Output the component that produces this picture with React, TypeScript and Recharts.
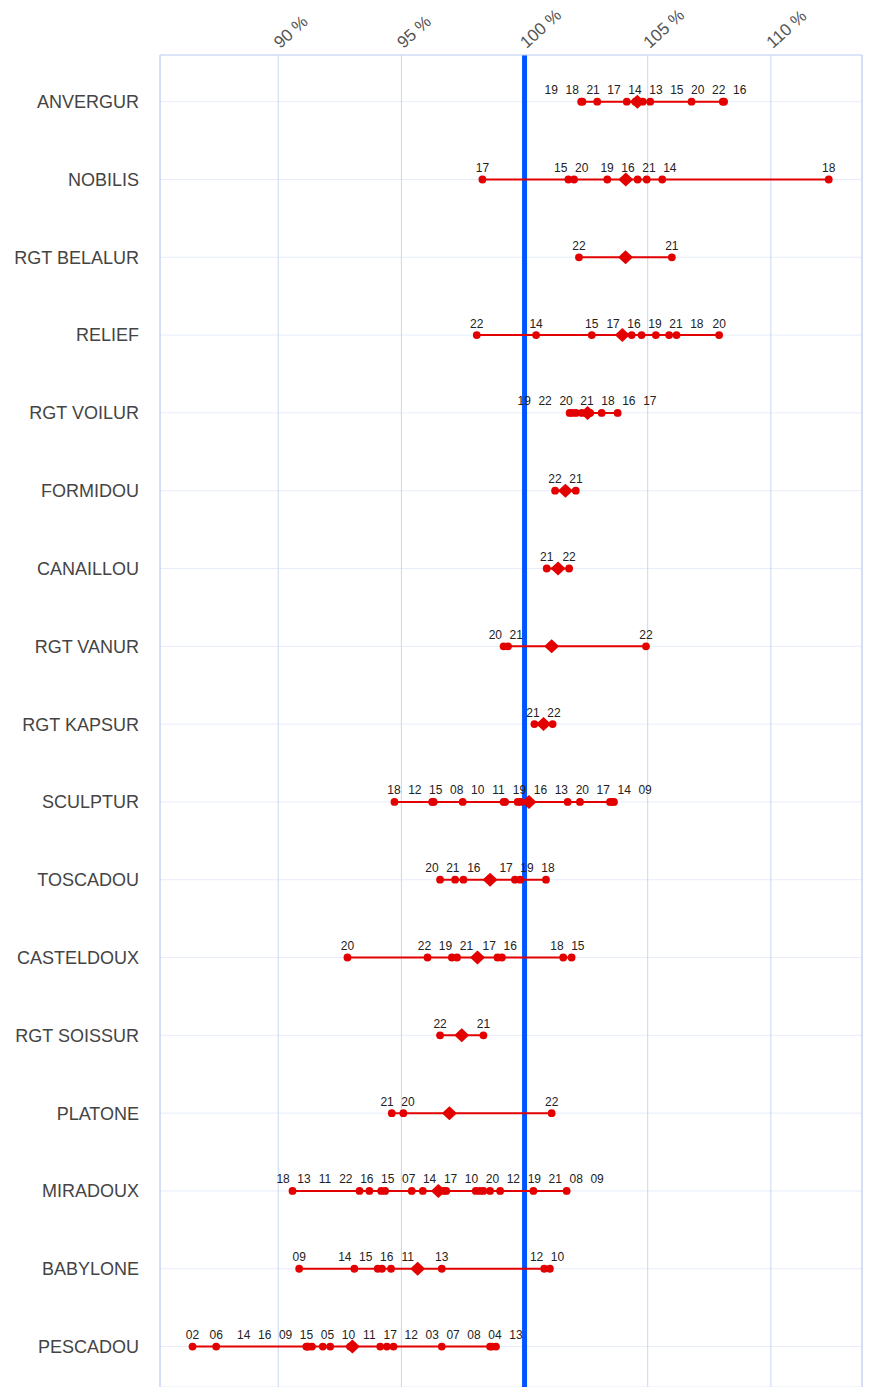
import { CartesianGrid, ReferenceLine, Scatter, ScatterChart, XAxis, YAxis } from "recharts"

const varieties = [
  "ANVERGUR",
  "NOBILIS",
  "RGT BELALUR",
  "RELIEF",
  "RGT VOILUR",
  "FORMIDOU",
  "CANAILLOU",
  "RGT VANUR",
  "RGT KAPSUR",
  "SCULPTUR",
  "TOSCADOU",
  "CASTELDOUX",
  "RGT SOISSUR",
  "PLATONE",
  "MIRADOUX",
  "BABYLONE",
  "PESCADOU",
]

// harvest year of each trial, one list per variety
const years = [
  ["19", "18", "21", "17", "14", "13", "15", "20", "22", "16"],
  ["17", "15", "20", "19", "16", "21", "14", "18"],
  ["22", "21"],
  ["22", "14", "15", "17", "16", "19", "21", "18", "20"],
  ["19", "22", "20", "21", "18", "16", "17"],
  ["22", "21"],
  ["21", "22"],
  ["20", "21", "22"],
  ["21", "22"],
  ["18", "12", "15", "08", "10", "11", "19", "16", "13", "20", "17", "14", "09"],
  ["20", "21", "16", "17", "19", "18"],
  ["20", "22", "19", "21", "17", "16", "18", "15"],
  ["22", "21"],
  ["21", "20", "22"],
  ["18", "13", "11", "22", "16", "15", "07", "14", "17", "10", "20", "12", "19", "21", "08", "09"],
  ["09", "14", "15", "16", "11", "13", "12", "10"],
  ["02", "06", "14", "16", "09", "15", "05", "10", "11", "17", "12", "03", "07", "08", "04", "13"],
]

// yield in % of the trial mean, same order as years
const yieldPct = [
  [102.3, 102.35, 102.95, 104.15, 104.5, 104.8, 105.1, 106.78, 108.05, 108.1],
  [98.29, 101.78, 102.01, 103.36, 104.59, 104.96, 105.59, 112.35],
  [102.21, 105.98],
  [98.06, 100.47, 102.73, 104.35, 104.75, 105.33, 105.87, 106.17, 107.9],
  [101.83, 101.93, 102.09, 102.33, 102.66, 103.13, 103.78],
  [101.24, 102.08],
  [100.9, 101.81],
  [99.15, 99.33, 104.93],
  [100.4, 101.14],
  [94.72, 96.25, 96.31, 97.49, 99.15, 99.21, 99.72, 99.84, 101.75, 102.25, 103.47, 103.55, 103.63],
  [96.57, 97.18, 97.52, 99.61, 99.82, 100.87],
  [92.81, 96.06, 97.05, 97.26, 98.9, 99.08, 101.57, 101.91],
  [96.57, 98.33],
  [94.61, 95.08, 101.1],
  [90.58, 93.3, 93.7, 94.18, 94.34, 95.42, 95.87, 96.71, 96.82, 98.02, 98.19, 98.33, 98.6, 99.01, 100.36, 101.71],
  [90.85, 93.09, 94.04, 94.21, 94.58, 96.64, 100.8, 101.03],
  [86.52, 87.48, 91.14, 91.18, 91.22, 91.37, 91.81, 92.11, 92.92, 94.14, 94.41, 94.68, 96.64, 98.6, 98.67, 98.84],
]

const meanPct = [
  104.58, 104.11, 104.1, 103.97, 102.56, 101.66, 101.36, 101.1, 100.77, 100.18, 98.6, 98.09, 97.45, 96.95, 96.5,
  95.66, 93.01,
]

const pctTicks = [90, 95, 100, 105, 110]

const RED = "#e30000"
const FONT = "'Liberation Sans', Arial, sans-serif"
const LABEL_GAP = 0.85 // min distance between two year labels, in % units

// push overlapping labels apart, keeping each cluster centred on its points
function spreadLabels(vals: number[]) {
  const groups = vals.map((v) => ({ n: 1, sum: v, start: v }))
  let i = 0
  while (i < groups.length - 1) {
    const a = groups[i]
    const b = groups[i + 1]
    if (a.start + a.n * LABEL_GAP > b.start + 1e-9) {
      const n = a.n + b.n
      const sum = a.sum + b.sum
      groups.splice(i, 2, { n, sum, start: sum / n - ((n - 1) / 2) * LABEL_GAP })
      i = Math.max(0, i - 1)
    } else {
      i++
    }
  }
  const out: number[] = []
  groups.forEach((g) => {
    for (let k = 0; k < g.n; k++) out.push(g.start + k * LABEL_GAP)
  })
  return out
}

const rows = varieties.map((_, i) => {
  const pts = years[i].map((yr, k) => ({ x: yieldPct[i][k], y: i, year: yr })).sort((a, b) => a.x - b.x)
  const pos = spreadLabels(pts.map((p) => p.x))
  return { pts, labels: pts.map((p, k) => ({ x: pos[k], y: i, year: p.year })) }
})

const means = meanPct.map((m, i) => ({ x: m, y: i }))

const Dot = (props: any) => <circle cx={props.cx} cy={props.cy} r={3.9} fill={RED} />

const Diamond = (props: any) => {
  const { cx, cy } = props
  return <polygon points={`${cx},${cy - 7} ${cx + 7.5},${cy} ${cx},${cy + 7} ${cx - 7.5},${cy}`} fill={RED} />
}

const YearLabel = (props: any) => (
  <text x={props.cx} y={props.cy - 7.5} textAnchor="middle" fontSize={12} fontFamily={FONT} fill="#222">
    {props.payload.year}
  </text>
)

const PctTick = (props: any) => {
  const { x, y, payload } = props
  const tx = x + 2
  const ty = y + 2
  return (
    <text
      x={tx}
      y={ty}
      transform={`rotate(-42 ${tx} ${ty})`}
      textAnchor="start"
      fontSize={17}
      fontFamily={FONT}
      fill="#555"
    >
      {payload.value} %
    </text>
  )
}

export default function App() {
  return (
    <div style={{ position: "absolute", left: 0, top: 0 }}>
      <ScatterChart width={869} height={1387} margin={{ top: 0, right: 7, bottom: 0, left: 0 }}>
        <CartesianGrid vertical={false} stroke="#e6ecf9" />
        <CartesianGrid horizontal={false} stroke="#c8d6f6" />
        <XAxis
          type="number"
          dataKey="x"
          orientation="top"
          height={55}
          domain={[85.2, 113.7]}
          ticks={pctTicks}
          interval={0}
          allowDataOverflow
          tickLine={false}
          axisLine={{ stroke: "#c6d4f3" }}
          tick={<PctTick />}
        />
        <YAxis
          type="number"
          dataKey="y"
          width={160}
          domain={[-0.6, 16.52]}
          reversed
          allowDataOverflow
          ticks={varieties.map((_, i) => i)}
          interval={0}
          tickFormatter={(v) => varieties[v]}
          tickLine={false}
          tickSize={0}
          tickMargin={21}
          axisLine={{ stroke: "#c6d4f3" }}
          tick={{ fill: "#444", fontSize: 18, fontFamily: FONT }}
        />
        <ReferenceLine x={113.7} stroke="#c6d4f3" ifOverflow="visible" />
        {rows.map((r, i) => (
          <Scatter
            key={`pts-${i}`}
            data={r.pts}
            line={{ stroke: RED, strokeWidth: 2 }}
            shape={<Dot />}
            isAnimationActive={false}
          />
        ))}
        <Scatter data={means} shape={<Diamond />} isAnimationActive={false} />
        <ReferenceLine x={100} stroke="#0055ff" strokeWidth={5} />
        {rows.map((r, i) => (
          <Scatter key={`lab-${i}`} data={r.labels} shape={<YearLabel />} isAnimationActive={false} />
        ))}
      </ScatterChart>
    </div>
  )
}
